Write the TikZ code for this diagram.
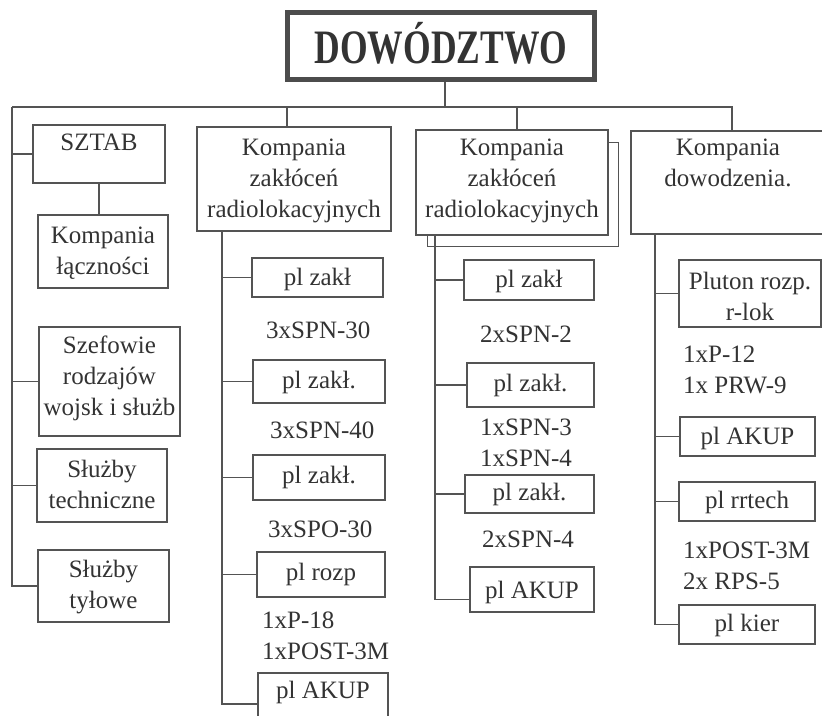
\documentclass[tikz,border=0pt]{standalone}
\usepackage{fontspec}
\setmainfont{Liberation Serif}
\usepackage{graphicx}
\definecolor{ink}{rgb}{0.2,0.2,0.2}
\definecolor{ln}{rgb}{0.33,0.33,0.33}
\tikzset{
  box/.style={draw=ln, line width=1.2pt, inner sep=0pt, text=ink},
  conn/.style={draw=ln, line width=1.2pt},
  lbl/.style={inner sep=0pt, text=ink, anchor=base west}
}
% #1 options, #2 name, #3 x1, #4 y1, #5 x2, #6 y2, #7 baseline of first line, #8 text
\newcommand\bx[8][]{%
  \pgfmathsetmacro\bxw{#5-#3}%
  \pgfmathsetmacro\bxh{#7-#4}%
  \pgfmathsetmacro\bxd{#6-#7}%
  \pgfmathsetmacro\bxc{(#3+#5)/2}%
  \node[box, minimum width=\bxw pt, text height=\bxh pt, text depth=\bxd pt, anchor=base, #1] (#2) at (\bxc,#7) {\begin{tabular}[t]{@{}c@{}}#8\end{tabular}};%
}
\begin{document}
\begin{tikzpicture}[x=1pt,y=-1pt, font=\fontsize{25}{31}\selectfont]
\path[use as bounding box] (0,0) rectangle (822,715);
\clip (0,0) rectangle (822,715);

% title
\node[draw={rgb,1:red,0.3;green,0.3;blue,0.3}, line width=5pt, inner sep=0pt, minimum width=307pt,
      text height=50.5pt, text depth=16.5pt, anchor=base, text=ink,
      font=\fontsize{48}{50}\selectfont\bfseries] (dow) at (441,63)
      {\scalebox{0.74}[1]{DOWÓDZTWO}\hspace{15pt}};

% column 0
\bx{sztab}{33}{125}{165}{183}{150}{SZTAB}
\bx{lacz}{38}{215}{168}{288}{243}{Kompania\\łączności}
\bx{szef}{39}{327}{180}{436}{353}{Szefowie\\rodzajów\\wojsk i służb}
\bx{tech}{37}{449}{167}{522}{477}{Służby\\techniczne}
\bx{tyl}{38}{550}{169}{622}{577}{Służby\\tyłowe}

% column 1
\bx{ka}{197}{127}{391}{231}{155}{Kompania\\zakłóceń\\radiolokacyjnych}
\bx{a1}{252}{258}{383}{297}{285}{pl zakł}
\bx{a2}{253}{360}{385}{403}{388}{pl zakł.}
\bx{a3}{253}{455}{385}{500}{483}{pl zakł.}
\bx{a4}{257}{552}{385}{597}{580}{pl rozp}
\bx{a5}{258}{673}{388}{735}{698}{pl AKUP}
\node[lbl] (ta1) at (266,338) {3xSPN-30};
\node[lbl] (ta2) at (270,438) {3xSPN-40};
\node[lbl] (ta3) at (268,537) {3xSPO-30};
\node[lbl] (ta4) at (262,628) {\begin{tabular}[t]{@{}l@{}}1xP-18\\1xPOST-3M\end{tabular}};

% column 2
\bx{kb}{416}{130}{608}{235}{155}{Kompania\\zakłóceń\\radiolokacyjnych}
\bx{b1}{464}{260}{594}{300}{287}{pl zakł}
\bx{b2}{467}{363}{594}{407}{391}{pl zakł.}
\bx{b3}{465}{475}{594}{513}{500}{pl zakł.}
\bx{b4}{470}{567}{594}{612}{598}{pl AKUP}
\node[lbl] (tb1) at (480,342) {2xSPN-2};
\node[lbl] (tb2) at (480,435) {\begin{tabular}[t]{@{}l@{}}1xSPN-3\\1xSPN-4\end{tabular}};
\node[lbl] (tb3) at (482,547) {2xSPN-4};
\draw[conn] ([yshift=-13pt]kb.north east) -- ++(10,0) -- ++(0,104) -- ++(-191,0) -- ++(0,-12);

% column 3
\bx{kc}{631}{131}{825}{234}{155}{Kompania\\dowodzenia.}
\bx{c1}{679}{260}{821}{327}{289}{Pluton rozp.\\r-lok}
\bx{c2}{680}{417}{815}{456}{444}{pl AKUP}
\bx{c3}{679}{482}{815}{521}{508}{pl rrtech}
\bx{c4}{679}{605}{815}{644}{631}{pl kier}
\node[lbl] (tc1) at (683,362) {\begin{tabular}[t]{@{}l@{}}1xP-12\\1x PRW-9\end{tabular}};
\node[lbl] (tc2) at (683,558) {\begin{tabular}[t]{@{}l@{}}1xPOST-3M\\2x RPS-5\end{tabular}};

% connectors
\coordinate (bL) at (12,107);
\coordinate (bR) at (732,107);
\coordinate (d0) at (445,107);
\coordinate (d1) at (287,107);
\coordinate (d2) at (517,107);
\coordinate (v1) at (222,0);
\coordinate (v2) at (435,0);
\coordinate (v3) at (655,0);

\draw[conn] (d0) -- (d0 |- dow.south);
\draw[conn] (bL) -- (bR) -- (bR |- kc.north);
\draw[conn] (d1) -- (d1 |- ka.north);
\draw[conn] (d2) -- (d2 |- kb.north);

\draw[conn] (bL) |- (tyl.west);
\draw[conn] (sztab.west) -- (sztab.west -| bL);
\draw[conn] (szef.west) -- (szef.west -| bL);
\draw[conn] (tech.west) -- (tech.west -| bL);
\draw[conn] (sztab.south) -- (sztab.south |- lacz.north);

\draw[conn] (ka.south -| v1) |- (a5.west);
\foreach \n in {a1,a2,a3,a4} \draw[conn] (\n.west) -- (\n.west -| v1);

\draw[conn] (kb.south -| v2) |- ([yshift=-10pt]b4.west);
\foreach \n in {b1,b2,b3} \draw[conn] (\n.west) -- (\n.west -| v2);

\draw[conn] (kc.south -| v3) |- (c4.west);
\foreach \n in {c1,c2,c3} \draw[conn] (\n.west) -- (\n.west -| v3);
\end{tikzpicture}
\end{document}
